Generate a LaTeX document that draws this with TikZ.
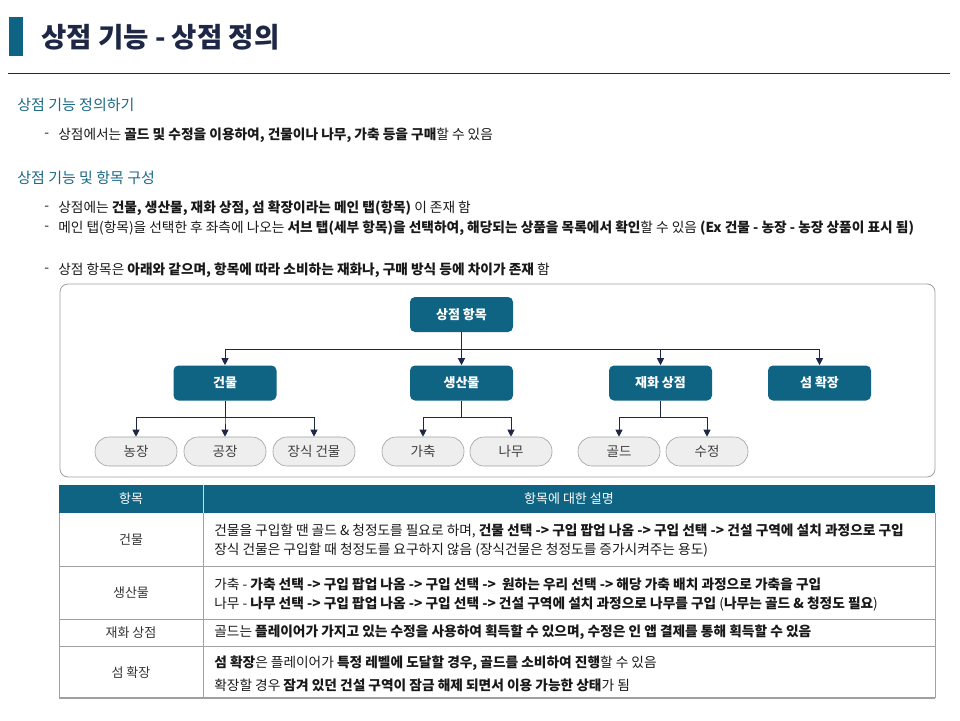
\documentclass[tikz,border=0pt]{standalone}
\usepackage{fontspec}
\setmainfont{Noto Sans CJK KR}
\usetikzlibrary{arrows.meta,positioning}

\definecolor{shopteal}{RGB}{15,99,131}
\definecolor{headteal}{RGB}{28,104,134}
\definecolor{navyline}{RGB}{30,40,70}
\definecolor{pillgray}{RGB}{238,238,238}
\definecolor{rulegray}{RGB}{160,160,160}
\definecolor{bodytext}{RGB}{25,25,25}

\newcommand{\bt}[1]{\textbf{#1}}
\newcommand{\fs}[1]{\fontsize{#1}{#1}\selectfont}

\begin{document}
\begin{tikzpicture}[x=1pt, y=-1pt, line width=0.6pt,
    catbox/.style={fill=shopteal, text=white, rounded corners=5pt, minimum width=103pt,
      minimum height=35pt, font=\fs{13}\bfseries, inner sep=0pt},
    pill/.style={fill=pillgray, draw=rulegray, rounded corners=14pt, minimum width=82pt,
      minimum height=29pt, font=\fs{13.5}, text=black!75, inner sep=0pt},
    link/.style={draw=navyline, line width=0.9pt, -{Triangle[width=7pt,length=7pt]}},
    bodyline/.style={anchor=west, font=\fs{13.7}, text=bodytext, inner sep=0pt},
    bulletmark/.style={anchor=west, font=\fs{13.7}, text=bodytext, inner sep=0pt},
    sect/.style={anchor=west, font=\fs{15}, text=headteal, inner sep=0pt},
    cell/.style={font=\fs{13}, text=black!80, inner sep=0pt}]
  \useasboundingbox (0,0) rectangle (960,720);

  % title
  \fill[shopteal] (9,17) rectangle (23,56);
  \node[anchor=west, font=\fs{27.5}\bfseries, text=navyline, inner sep=0pt] (title) at (41,37) {상점 기능 - 상점 정의};
  \draw[navyline, line width=1pt] (8,73) -- (950,73);

  % section 1
  \node[sect] (s1) at (17,105) {상점 기능 정의하기};
  \node[bulletmark] (d1) at (44,135) {-};
  \node[bodyline] (t1) at (58,135) {상점에서는 \bt{골드 및 수정을 이용하여, 건물이나 나무, 가축 등을 구매}할 수 있음};

  % section 2
  \node[sect] (s2) at (17,178) {상점 기능 및 항목 구성};
  \node[bulletmark] (d2) at (44,208) {-};
  \node[bodyline] (t2) at (58,208) {상점에는 \bt{건물, 생산물, 재화 상점, 섬 확장이라는 메인 탭(항목)} 이 존재 함};
  \node[bulletmark] (d3) at (44,228) {-};
  \node[bodyline] (t3) at (58,228) {메인 탭(항목)을 선택한 후 좌측에 나오는 \bt{서브 탭(세부 항목)을 선택하여, 해당되는 상품을 목록에서 확인}할 수 있음 \bt{(Ex 건물 - 농장 - 농장 상품이 표시 됨)}};
  \node[bulletmark] (d4) at (44,270) {-};
  \node[bodyline] (t4) at (58,270) {상점 항목은 \bt{아래와 같으며, 항목에 따라 소비하는 재화나, 구매 방식 등에 차이가 존재} 함};

  % tree
  \draw[rulegray, line width=0.8pt, rounded corners=8pt] (60,284) rectangle (935,477);
  \node[catbox] (shop) at (461.5,314.5) {상점 항목};
  \node[catbox] (bld)  at (225,383)   {건물};
  \node[catbox] (prod) at (461.5,383) {생산물};
  \node[catbox] (cur)  at (660.5,383) {재화 상점};
  \node[catbox] (isl)  at (819.5,383) {섬 확장};

  \node[pill] (farm)  at (136,451.5) {농장};
  \node[pill] (fact)  at (225,451.5) {공장};
  \node[pill] (deco)  at (314,451.5) {장식 건물};
  \node[pill] (stock) at (423,451.5) {가축};
  \node[pill] (tree)  at (511,451.5) {나무};
  \node[pill] (gold)  at (619,451.5) {골드};
  \node[pill] (gem)   at (707,451.5) {수정};

  \foreach \c in {bld, prod, cur, isl} { \draw[link] (shop.south) -- ++(0,17) -| (\c.north); }
  \foreach \c in {farm, fact, deco} { \draw[link] (bld.south) -- ++(0,17) -| (\c.north); }
  \foreach \c in {stock, tree} { \draw[link] (prod.south) -- ++(0,17) -| (\c.north); }
  \foreach \c in {gold, gem} { \draw[link] (cur.south) -- ++(0,17) -| (\c.north); }

  % table
  \fill[shopteal] (59,485) rectangle (935,513);
  \draw[white!85!black, line width=0.8pt] (203,485) -- (203,513);
  \foreach \y in {566, 619, 646} { \draw[rulegray, line width=0.8pt] (59,\y) -- (935,\y); }
  \draw[rulegray, line width=1.5pt] (59,698) -- (935,698);
  \draw[rulegray, line width=0.8pt] (59,513) -- (59,698);
  \draw[rulegray, line width=0.8pt] (203,513) -- (203,698);
  \draw[rulegray, line width=0.8pt] (935,513) -- (935,698);
  \node[cell, text=white] (h1) at (131,499) {항목};
  \node[cell, text=white] (h2) at (569,499) {항목에 대한 설명};

  \node[cell] (c1) at (131,540) {건물};
  \node[cell] (c2) at (131,593) {생산물};
  \node[cell] (c3) at (131,632.5) {재화 상점};
  \node[cell] (c4) at (131,673) {섬 확장};

  \node[bodyline] (r1a) at (214,531) {건물을 구입할 땐 골드 \& 청정도를 필요로 하며, \bt{건물 선택 -> 구입 팝업 나옴 -> 구입 선택 -> 건설 구역에 설치 과정으로 구입}};
  \node[bodyline] (r1b) at (214,550) {장식 건물은 구입할 때 청정도를 요구하지 않음 (장식건물은 청정도를 증가시켜주는 용도)};
  \node[bodyline] (r2a) at (214,584) {가축 - \bt{가축 선택 -> 구입 팝업 나옴 -> 구입 선택 ->\ \ 원하는 우리 선택 -> 해당 가축 배치 과정으로 가축을 구입}};
  \node[bodyline] (r2b) at (214,604) {나무 - \bt{나무 선택 -> 구입 팝업 나옴 -> 구입 선택 -> 건설 구역에 설치 과정으로 나무를 구입} (\bt{나무는 골드 \& 청정도 필요})};
  \node[bodyline] (r3a) at (214,632.5) {골드는 \bt{플레이어가 가지고 있는 수정을 사용하여 획득할 수 있으며, 수정은 인 앱 결제를 통해 획득할 수 있음}};
  \node[bodyline] (r4a) at (214,663) {\bt{섬 확장}은 플레이어가 \bt{특정 레벨에 도달할 경우, 골드를 소비하여 진행}할 수 있음};
  \node[bodyline] (r4b) at (214,685) {확장할 경우 \bt{잠겨 있던 건설 구역이 잠금 해제 되면서 이용 가능한 상태}가 됨};
\end{tikzpicture}
\end{document}
